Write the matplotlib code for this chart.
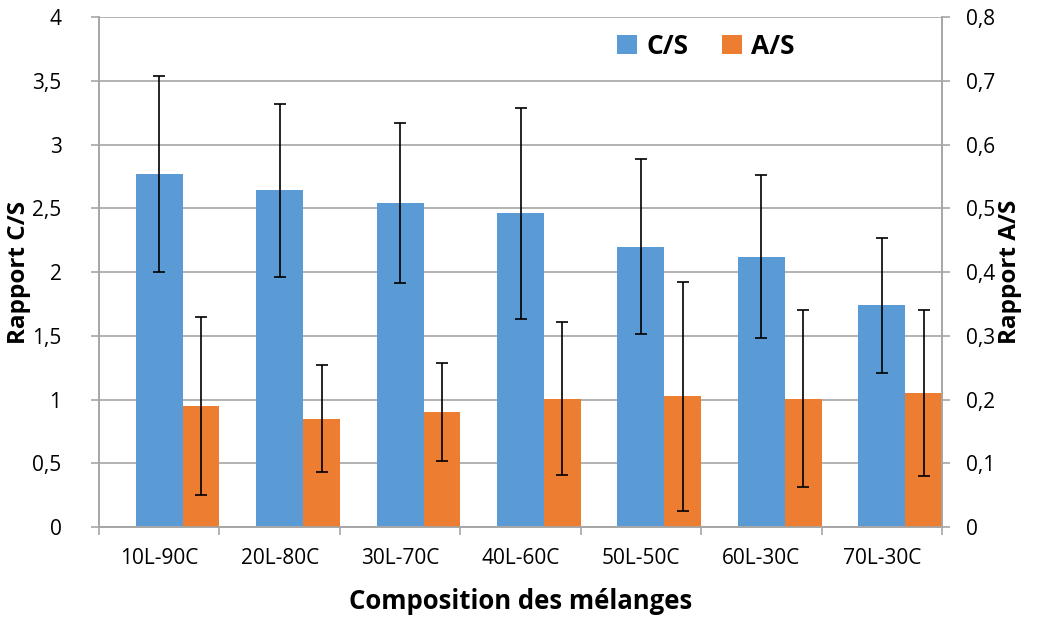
import numpy as np
import matplotlib
matplotlib.use("Agg")
import matplotlib.pyplot as plt
from matplotlib.ticker import FuncFormatter, MultipleLocator

plt.rcParams['font.family'] = ['Open Sans', 'DejaVu Sans']

categories = ["10L-90C", "20L-80C", "30L-70C", "40L-60C", "50L-50C", "60L-30C", "70L-30C"]
cs_values = [2.77, 2.64, 2.54, 2.46, 2.20, 2.12, 1.74]
cs_errors = [0.77, 0.68, 0.63, 0.83, 0.69, 0.64, 0.53]
as_values = [0.190, 0.170, 0.181, 0.201, 0.205, 0.201, 0.210]
as_errors = [0.140, 0.084, 0.077, 0.120, 0.180, 0.139, 0.130]

blue = "#5B9BD5"
orange = "#ED7D31"
grid_col = "#A6A6A6"

def comma(v, pos):
    s = ("%.1f" % v).rstrip("0").rstrip(".")
    return s.replace(".", ",")

fig = plt.figure(figsize=(10.48, 6.28), dpi=100)
ax = fig.add_axes([0.0945, 0.1608, 0.8044, 0.8121])
ax2 = ax.twinx()

x = np.arange(len(categories))
w1 = 0.39
w2 = 0.305
ax.bar(x, cs_values, w1, color=blue, zorder=2, label="C/S")
ax.errorbar(x, cs_values, yerr=cs_errors, fmt="none", ecolor="black",
            elinewidth=1.2, capsize=4.5, capthick=1.2, zorder=3)
x2 = x + w1 / 2 + w2 / 2
ax2.bar(x2, as_values, w2, color=orange, zorder=2, label="A/S")
ax2.errorbar(x2, as_values, yerr=as_errors, fmt="none", ecolor="black",
             elinewidth=1.2, capsize=4.5, capthick=1.2, zorder=3)

ax.set_xlim(-0.5, len(categories) - 0.5)
ax.set_ylim(0, 4)
ax2.set_ylim(0, 0.8)
ax.yaxis.set_major_locator(MultipleLocator(0.5))
ax2.yaxis.set_major_locator(MultipleLocator(0.1))
ax.yaxis.set_major_formatter(FuncFormatter(comma))
ax2.yaxis.set_major_formatter(FuncFormatter(comma))
ax.grid(axis="y", color=grid_col, linewidth=1.2, zorder=0)
ax.set_axisbelow(True)

ax.set_xticks(x)
ax.set_xticklabels(categories)
ax.set_xticks(np.arange(len(categories) + 1) - 0.5, minor=True)
ax.tick_params(axis="x", which="major", length=0, pad=15, labelsize=15)
ax.tick_params(axis="x", which="minor", length=6, color=grid_col, width=1.2)
ax.tick_params(axis="y", length=6, color=grid_col, width=1.2, labelsize=15, pad=21)
ax2.tick_params(axis="y", length=6, color=grid_col, width=1.2, labelsize=15, pad=11)

for a in (ax, ax2):
    a.spines["top"].set_visible(False)
    for side in ("left", "right", "bottom"):
        a.spines[side].set_color(grid_col)
        a.spines[side].set_linewidth(1.2)

ax.set_xlabel("Composition des mélanges", fontsize=18.5, fontweight="bold", labelpad=14)
ax.set_ylabel("Rapport C/S", fontsize=17.5, fontweight="bold")
ax.yaxis.set_label_coords(-0.081, 0.5)
ax2.set_ylabel("Rapport A/S", fontsize=17.5, fontweight="bold", labelpad=2)

h1, l1 = ax.get_legend_handles_labels()
h2, l2 = ax2.get_legend_handles_labels()
leg = ax2.legend(h1 + h2, l1 + l2, loc="center", bbox_to_anchor=(0.72, 0.943),
                 ncol=2, frameon=False, prop={"size": 19, "weight": "bold"},
                 handlelength=0.75, handleheight=0.75, handletextpad=0.35, columnspacing=1.3,
                 borderpad=0)

fig.savefig("out.png", dpi=100)
